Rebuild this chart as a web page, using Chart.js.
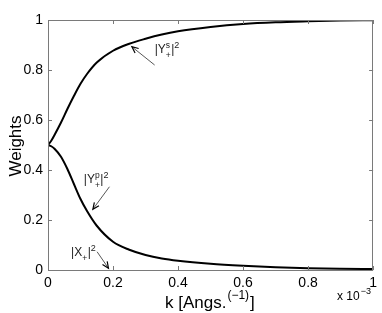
<!DOCTYPE html>
<html>
<head>
<meta charset="utf-8">
<script src="https://cdn.jsdelivr.net/npm/chart.js@4.4.1/dist/chart.umd.min.js"></script>
<style>
  html, body { margin: 0; padding: 0; background: #fff; }
  #wrap { width: 382px; height: 313px; position: relative; }
</style>
</head>
<body>
<div id="wrap"><canvas id="c" width="382" height="313"></canvas></div>
<script>
// ---- data (k in units of 1e-3 Angs^-1) ----
const kValues   = [0, 0.01, 0.02, 0.04, 0.06, 0.08, 0.10, 0.12, 0.15, 0.20, 0.25, 0.30, 0.35, 0.40, 0.50, 0.60, 0.70, 0.80, 0.90, 1.00];
const ysWeights = [0.5, 0.517, 0.54, 0.59, 0.645, 0.697, 0.745, 0.784, 0.83, 0.877, 0.905, 0.925, 0.942, 0.955, 0.972, 0.984, 0.991, 0.995, 0.998, 0.999];
const ypWeights = [0.5, 0.495, 0.485, 0.453, 0.403, 0.343, 0.284, 0.236, 0.177, 0.113, 0.081, 0.060, 0.046, 0.037, 0.025, 0.017, 0.011, 0.007, 0.005, 0.004];
const xTicks = [0, 0.2, 0.4, 0.6, 0.8, 1];
const yTicks = [0, 0.2, 0.4, 0.6, 0.8, 1];
const xTickLabels = ['0', '0.2', '0.4', '0.6', '0.8', '1'];
const yTickLabels = ['0', '0.2', '0.4', '0.6', '0.8', '1'];

// annotation anchors (data coordinates)
const annotations = [
  { main: 'Y', sup: 's', sub: '+', text: [0.328, 0.868], tail: [0.328, 0.82], tip: [0.258, 0.893] },
  { main: 'Y', sup: 'p', sub: '+', text: [0.110, 0.348], tail: [0.189, 0.333], tip: [0.138, 0.243] },
  { main: 'X', sup: '',  sub: '+', text: [0.071, 0.056], tail: [0.151, 0.073], tip: [0.186, 0.007] }
];

const FONT = '"Liberation Sans", Arial, Helvetica, sans-serif';
const AXIS_GRAY = '#7a7a7a';

const toPts = (xs, ys) => xs.map((x, i) => ({ x: x, y: ys[i] }));

const decor = {
  id: 'decor',
  afterDraw(chart) {
    const ctx = chart.ctx;
    const a = chart.chartArea;
    const xs = chart.scales.x, ys = chart.scales.y;
    ctx.save();
    // box
    ctx.strokeStyle = AXIS_GRAY;
    ctx.lineWidth = 1;
    ctx.strokeRect(Math.round(a.left) + 0.5, Math.round(a.top) + 0.5,
                   Math.round(a.right - a.left) - 1, Math.round(a.bottom - a.top));
    // inward ticks on all four sides
    const tl = 4;
    ctx.beginPath();
    xTicks.forEach(v => {
      const px = Math.round(xs.getPixelForValue(v)) + 0.5;
      ctx.moveTo(px, a.bottom); ctx.lineTo(px, a.bottom - tl);
      ctx.moveTo(px, a.top); ctx.lineTo(px, a.top + tl);
    });
    yTicks.forEach(v => {
      const py = Math.round(ys.getPixelForValue(v)) + 0.5;
      ctx.moveTo(a.left, py); ctx.lineTo(a.left + tl, py);
      ctx.moveTo(a.right, py); ctx.lineTo(a.right - tl, py);
    });
    ctx.stroke();

    ctx.fillStyle = '#000';
    ctx.textBaseline = 'alphabetic';
    // y title
    ctx.save();
    ctx.translate(21, 146);
    ctx.rotate(-Math.PI / 2);
    ctx.font = '17px ' + FONT;
    ctx.textAlign = 'center';
    ctx.fillText('Weights', 0, 0);
    ctx.restore();

    // x title: k [Angs.^(−1)]
    ctx.textAlign = 'left';
    let x = 165, base = 308;
    ctx.font = '17px ' + FONT;
    ctx.fillText('k [Angs.', x, base);
    x += ctx.measureText('k [Angs.').width + 1;
    ctx.font = '12px ' + FONT;
    ctx.fillText('(\u22121)', x, base - 9);
    x += ctx.measureText('(\u22121)').width + 1;
    ctx.font = '17px ' + FONT;
    ctx.fillText(']', x, base);

    // x 10^-3
    x = 337; base = 300;
    ctx.font = '12px ' + FONT;
    ctx.fillText('x 10', x, base);
    x += ctx.measureText('x 10').width + 1;
    ctx.font = '9px ' + FONT;
    ctx.fillText('\u22123', x, base - 6);

    // annotations
    annotations.forEach(an => {
      const tx = xs.getPixelForValue(an.text[0]);
      const tyb = ys.getPixelForValue(an.text[1]);
      let cx = tx;
      ctx.font = '12px ' + FONT;
      ctx.fillStyle = '#222';
      ctx.fillText('|' + an.main, cx, tyb);
      cx += ctx.measureText('|' + an.main).width;
      ctx.font = '8.5px ' + FONT;
      let w = 0;
      if (an.sup) { ctx.fillText(an.sup, cx, tyb - 5); w = ctx.measureText(an.sup).width; }
      ctx.fillText(an.sub, cx, tyb + 5);
      w = Math.max(w, ctx.measureText(an.sub).width);
      cx += w + 0.5;
      ctx.font = '12px ' + FONT;
      ctx.fillText('|', cx, tyb);
      cx += ctx.measureText('|').width;
      ctx.font = '9px ' + FONT;
      ctx.fillText('2', cx, tyb - 5);

      // arrow
      const x0 = xs.getPixelForValue(an.tail[0]), y0 = ys.getPixelForValue(an.tail[1]);
      const x1 = xs.getPixelForValue(an.tip[0]), y1 = ys.getPixelForValue(an.tip[1]);
      ctx.strokeStyle = '#444';
      ctx.lineWidth = 0.9;
      ctx.beginPath();
      ctx.moveTo(x0, y0); ctx.lineTo(x1, y1);
      ctx.stroke();
      const ang = Math.atan2(y1 - y0, x1 - x0);
      const hl = 7, ha = 0.42;
      ctx.strokeStyle = '#000';
      ctx.lineWidth = 1.2;
      ctx.beginPath();
      ctx.moveTo(x1 - hl * Math.cos(ang - ha), y1 - hl * Math.sin(ang - ha));
      ctx.lineTo(x1, y1);
      ctx.lineTo(x1 - hl * Math.cos(ang + ha), y1 - hl * Math.sin(ang + ha));
      ctx.stroke();
    });
    ctx.restore();
  }
};

new Chart(document.getElementById('c'), {
  type: 'line',
  data: {
    datasets: [
      { data: toPts(kValues, ysWeights), borderColor: '#000', borderWidth: 2, pointRadius: 0, fill: false, cubicInterpolationMode: 'monotone' },
      { data: toPts(kValues, ypWeights), borderColor: '#000', borderWidth: 2, pointRadius: 0, fill: false, cubicInterpolationMode: 'monotone' }
    ]
  },
  options: {
    responsive: false,
    animation: false,
    devicePixelRatio: 1,
    layout: { padding: { top: 20, right: 8, left: 0, bottom: 0 } },
    plugins: { legend: { display: false }, tooltip: { enabled: false } },
    scales: {
      x: {
        type: 'linear', min: 0, max: 1,
        afterBuildTicks: s => { s.ticks = xTicks.map(v => ({ value: v })); },
        afterFit: s => { s.height = 43; },
        ticks: {
          callback: (v) => xTickLabels[xTicks.indexOf(v)] ?? '',
          font: { family: FONT, size: 14 }, color: '#000', padding: 5, maxRotation: 0, autoSkip: false
        },
        grid: { display: false, drawTicks: false },
        border: { display: false }
      },
      y: {
        type: 'linear', min: 0, max: 1,
        afterBuildTicks: s => { s.ticks = yTicks.map(v => ({ value: v })); },
        afterFit: s => { s.width = 48; },
        ticks: {
          callback: (v) => yTickLabels[yTicks.indexOf(v)] ?? '',
          font: { family: FONT, size: 14 }, color: '#000', padding: 5, autoSkip: false
        },
        grid: { display: false, drawTicks: false },
        border: { display: false }
      }
    }
  },
  plugins: [decor]
});
</script>
</body>
</html>
